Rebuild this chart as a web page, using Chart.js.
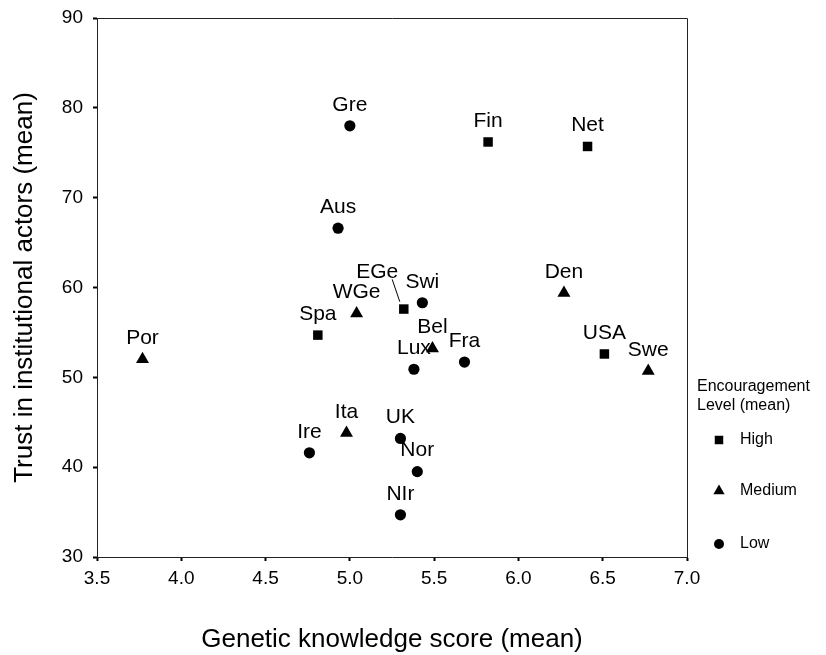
<!DOCTYPE html>
<html><head><meta charset="utf-8">
<script src="https://cdn.jsdelivr.net/npm/chart.js@4/dist/chart.umd.min.js"></script>
<style>html,body{margin:0;padding:0;background:#fff}#wrap{width:826px;height:655px}</style>
</head><body><div id="wrap"><canvas id="c" width="826" height="655"></canvas></div>
<script>
// ---- data ----
const countries = ['Spa','EGe','Fin','Net','USA','Por','WGe','Bel','Ita','Den','Swe','Gre','Aus','Swi','Lux','Fra','Ire','UK','Nor','NIr'];
const knowledge = [4.81,5.32,5.82,6.41,6.51,3.77,5.04,5.49,4.98,6.27,6.77,5.00,4.93,5.43,5.38,5.68,4.76,5.30,5.40,5.30];
const trust     = [54.7,57.6,76.2,75.7,52.6,52.0,57.1,53.2,43.8,59.4,50.7,78.0,66.6,58.3,50.9,51.7,41.6,43.2,39.5,34.7];
const level     = ['High','High','High','High','High','Medium','Medium','Medium','Medium','Medium','Medium','Low','Low','Low','Low','Low','Low','Low','Low','Low'];
const levels = ['High','Medium','Low'];
const xTitle = 'Genetic knowledge score (mean)';
const yTitle = 'Trust in institutional actors (mean)';
const legendTitle = ['Encouragement', 'Level (mean)'];

const FONT = "'Liberation Sans', Arial, Helvetica, sans-serif";
const styles = { High: {pointStyle:'rect', radius:6.7}, Medium: {pointStyle:'triangle', radius:7.5}, Low: {pointStyle:'circle', radius:5.6} };
// label placement tweaks (style only)
const labelTweaks = { EGe: {dx:-26.6, dy:-37.3, leader:[-11.6,-29.7,-4,-7.3]} };

const datasets = levels.map(lv => ({
  label: lv,
  data: countries.map((c,i)=>({x:knowledge[i], y:trust[i], name:c, lv:level[i]})).filter(p=>p.lv===lv),
  pointStyle: styles[lv].pointStyle,
  pointRadius: styles[lv].radius,
  pointHoverRadius: styles[lv].radius,
  backgroundColor: '#000',
  borderColor: '#000',
  borderWidth: 0
}));

const labelPlugin = {
  id: 'pointLabels',
  afterDatasetsDraw(chart) {
    const ctx = chart.ctx;
    ctx.save();
    ctx.font = '21px ' + FONT;
    ctx.fillStyle = '#000';
    ctx.textAlign = 'center';
    ctx.textBaseline = 'middle';
    chart.data.datasets.forEach((ds, di) => {
      const meta = chart.getDatasetMeta(di);
      meta.data.forEach((el, i) => {
        const name = ds.data[i].name;
        const t = labelTweaks[name] || {dx:0, dy:-21};
        ctx.fillText(name, el.x + t.dx, el.y + t.dy);
        if (t.leader) {
          ctx.strokeStyle = '#000'; ctx.lineWidth = 1;
          ctx.beginPath();
          ctx.moveTo(el.x + t.leader[0], el.y + t.leader[1]);
          ctx.lineTo(el.x + t.leader[2], el.y + t.leader[3]);
          ctx.stroke();
        }
      });
    });
    ctx.restore();
  }
};

const framePlugin = {
  id: 'frame',
  afterDraw(chart) {
    const {ctx, chartArea:a} = chart;
    ctx.save();
    ctx.strokeStyle = '#222'; ctx.lineWidth = 1;
    ctx.beginPath();
    ctx.moveTo(Math.round(a.left)+0.5, Math.round(a.top)+0.5);
    ctx.lineTo(Math.round(a.right)+0.5, Math.round(a.top)+0.5);
    ctx.lineTo(Math.round(a.right)+0.5, Math.round(a.bottom)+0.5);
    ctx.stroke();
    ctx.restore();
  }
};

function drawMarker(ctx, style, x, y, r) {
  ctx.beginPath();
  if (style === 'rect') {
    const s = r / Math.SQRT2;
    ctx.rect(x - s, y - s, 2*s, 2*s);
  } else if (style === 'triangle') {
    for (let k=0;k<3;k++){ const a = k*2*Math.PI/3; const px = x + Math.sin(a)*r, py = y - Math.cos(a)*r; k?ctx.lineTo(px,py):ctx.moveTo(px,py);} ctx.closePath();
  } else {
    ctx.arc(x, y, r, 0, Math.PI*2);
  }
  ctx.fill();
}

const legendPlugin = {
  id: 'sideLegend',
  afterDraw(chart) {
    const ctx = chart.ctx;
    ctx.save();
    ctx.fillStyle = '#000';
    ctx.font = '16px ' + FONT;
    ctx.textAlign = 'left'; ctx.textBaseline = 'middle';
    ctx.fillText(legendTitle[0], 697, 387);
    ctx.fillText(legendTitle[1], 697, 406);
    const ys = [440, 491, 544];
    const sizes = {rect:6, triangle:6.5, circle:5};
    chart.data.datasets.forEach((ds, i) => {
      drawMarker(ctx, ds.pointStyle, 719, ys[i], sizes[ds.pointStyle]);
      ctx.fillText(ds.label, 740, ys[i]);
    });
    ctx.restore();
  }
};

new Chart(document.getElementById('c'), {
  type: 'scatter',
  data: { datasets },
  options: {
    responsive: false,
    animation: false,
    layout: { autoPadding:false, padding: {left:0, top:18, right:139, bottom:0} },
    plugins: { legend: {display:false}, tooltip: {enabled:false} },
    scales: {
      x: {
        type:'linear', position:'bottom', min:3.5, max:7.0,
        ticks: { stepSize:0.5, callback: v => Number(v).toFixed(1), font:{size:19, family:FONT}, color:'#000', padding:6, maxRotation:0, autoSkip:false },
        grid: { drawOnChartArea:false, drawTicks:true, tickLength:4, tickWidth:2, tickColor:'#000' },
        border: { display:true, color:'#222', width:1 },
        title: { display:true, text:xTitle, font:{size:26, family:FONT}, color:'#000', padding:{top:0,bottom:0} },
        afterFit(s){ s.height = 98; s.paddingLeft = 0; s.paddingRight = 0; }
      },
      y: {
        type:'linear', position:'left', min:30, max:90,
        ticks: { stepSize:10, font:{size:19, family:FONT}, color:'#000', padding:10 },
        grid: { drawOnChartArea:false, drawTicks:true, tickLength:4, tickWidth:2, tickColor:'#000' },
        border: { display:true, color:'#222', width:1 },
        title: { display:true, text:yTitle, font:{size:26, family:FONT}, color:'#000', padding:{top:9,bottom:0} },
        afterFit(s){ s.width = 97; s.paddingTop = 0; s.paddingBottom = 0; }
      }
    }
  },
  plugins: [labelPlugin, framePlugin, legendPlugin]
});
</script>
</body></html>
